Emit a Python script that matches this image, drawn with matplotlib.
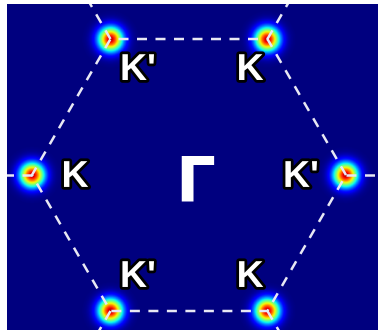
import numpy as np
import matplotlib
matplotlib.use("Agg")
from matplotlib import pyplot as plt
import matplotlib.patheffects as pe

# valley spots sit on the corners of the first Brillouin zone (unit radius)
spot_angles = [0, 60, 120, 180, 240, 300]   # degrees
spot_peak = [1.0, 1.0, 1.0, 1.0, 1.0, 1.0]
spot_sigma = 0.054

# valley labels and where they are written
labels = ["K'", "K", "K", "K'", "K'", "K"]
label_x = [-0.325, 0.389, -0.726, 0.713, -0.325, 0.389]
label_y = [0.605, 0.605, -0.076, -0.076, -0.713, -0.713]

xlim = (-1.159, 1.204)
ylim = (-0.987, 1.089)

fig = plt.figure(figsize=(3.78, 3.30), dpi=100)
ax = fig.add_axes([7 / 378, 0, 371 / 378, 326 / 330])

# intensity map: gaussian spot at each K / K' corner
xs = np.linspace(xlim[0], xlim[1], 600)
ys = np.linspace(ylim[0], ylim[1], 530)
X, Y = np.meshgrid(xs, ys)
Z = np.zeros_like(X)
for ang, pk in zip(spot_angles, spot_peak):
    cx, cy = np.cos(np.radians(ang)), np.sin(np.radians(ang))
    Z += pk * np.exp(-((X - cx) ** 2 + (Y - cy) ** 2) / (2 * spot_sigma ** 2))
ax.imshow(Z, extent=(xlim[0], xlim[1], ylim[0], ylim[1]), origin="lower",
          cmap="jet", vmin=0, vmax=1.05, interpolation="bilinear")

# zone boundary: hexagon and the neighbouring-zone edges leaving each corner
dash = dict(color="#e8e8f4", lw=1.8, ls=(0, (4, 3.4)))
corner = np.radians(np.arange(0, 361, 60))
ax.plot(np.cos(corner), np.sin(corner), **dash)
for ang in spot_angles:
    c, s = np.cos(np.radians(ang)), np.sin(np.radians(ang))
    ax.plot([c, 2 * c], [s, 2 * s], **dash)

for t, x, y in zip(labels, label_x, label_y):
    ax.text(x, y, t, color="white", fontsize=27, fontweight="bold",
            family="Liberation Sans", ha="center", va="baseline",
            path_effects=[pe.withStroke(linewidth=4, foreground="black")])

ax.text(0.04, -0.166, "Γ", color="white", fontsize=45, fontweight="bold",
        family="DejaVu Sans", ha="center", va="baseline")

ax.set_xlim(*xlim)
ax.set_ylim(*ylim)
ax.set_aspect("auto")
ax.axis("off")

fig.savefig("out.png", dpi=100)
